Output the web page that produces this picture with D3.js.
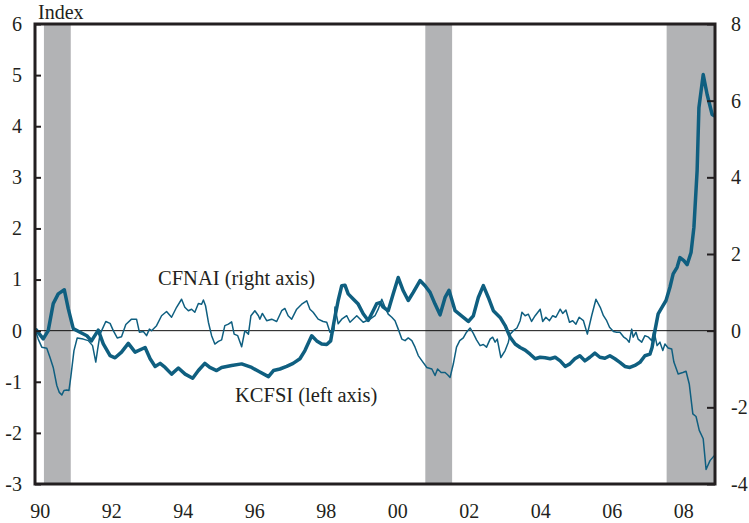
<!DOCTYPE html>
<html>
<head>
<meta charset="utf-8">
<script src="https://cdn.jsdelivr.net/npm/d3@7"></script>
<style>
  body { margin: 0; background: #fff; }
  text { font-family: "Liberation Serif", "Times New Roman", serif; fill: #231f20; }
</style>
</head>
<body>
<script>
// KCFSI, left axis (decimal years)
const kcfsiDates = [1990.25,1990.28,1990.48,1990.62,1990.76,1990.90,1991.07,1991.18,1991.32,1991.51,1991.70,1991.83,1992.02,1992.16,1992.35,1992.49,1992.67,1992.86,1993.05,1993.33,1993.47,1993.61,1993.75,1993.89,1994.07,1994.26,1994.45,1994.66,1994.82,1995.00,1995.14,1995.33,1995.47,1995.75,1996.03,1996.31,1996.54,1996.78,1996.92,1997.10,1997.29,1997.47,1997.66,1997.80,1997.99,1998.13,1998.27,1998.41,1998.52,1998.61,1998.73,1998.83,1998.92,1999.01,1999.15,1999.29,1999.43,1999.57,1999.71,1999.81,1999.90,1999.99,2000.13,2000.27,2000.41,2000.55,2000.69,2000.83,2001.02,2001.16,2001.30,2001.44,2001.58,2001.72,2001.83,2002.00,2002.18,2002.37,2002.51,2002.65,2002.79,2002.93,2003.07,2003.26,2003.40,2003.54,2003.68,2003.82,2003.96,2004.10,2004.24,2004.38,2004.52,2004.66,2004.80,2004.94,2005.08,2005.21,2005.35,2005.49,2005.63,2005.77,2005.91,2006.05,2006.19,2006.33,2006.47,2006.61,2006.75,2006.89,2007.03,2007.17,2007.31,2007.45,2007.51,2007.59,2007.68,2007.79,2007.90,2008.01,2008.10,2008.21,2008.29,2008.40,2008.49,2008.60,2008.68,2008.77,2008.82,2008.94,2009.05,2009.19,2009.26];
const kcfsiValues = [0.02,0.02,-0.16,0,0.53,0.72,0.80,0.43,0.04,-0.03,-0.10,-0.20,0.01,-0.26,-0.49,-0.53,-0.42,-0.25,-0.42,-0.33,-0.55,-0.70,-0.64,-0.72,-0.85,-0.73,-0.85,-0.93,-0.78,-0.64,-0.72,-0.78,-0.72,-0.68,-0.65,-0.72,-0.81,-0.90,-0.78,-0.75,-0.70,-0.64,-0.55,-0.39,-0.10,-0.20,-0.26,-0.27,-0.20,0.16,0.59,0.88,0.89,0.72,0.62,0.52,0.33,0.20,0.39,0.53,0.55,0.46,0.39,0.72,1.04,0.78,0.59,0.75,0.98,0.88,0.75,0.52,0.31,0.65,0.79,0.39,0.29,0.18,0.29,0.65,0.88,0.65,0.39,0.26,0.10,-0.13,-0.26,-0.33,-0.38,-0.46,-0.55,-0.52,-0.53,-0.55,-0.52,-0.59,-0.70,-0.65,-0.55,-0.49,-0.59,-0.52,-0.44,-0.52,-0.54,-0.49,-0.55,-0.62,-0.70,-0.72,-0.68,-0.62,-0.49,-0.46,-0.33,0,0.33,0.46,0.59,0.85,1.11,1.24,1.43,1.37,1.29,1.53,2.02,3.13,4.36,5.01,4.62,4.23,4.20];

// CFNAI, right axis
const cfnaiDates = [1990.25,1990.34,1990.44,1990.58,1990.67,1990.76,1990.86,1990.93,1991.00,1991.06,1991.14,1991.20,1991.25,1991.34,1991.43,1991.60,1991.74,1991.86,1991.95,1992.00,1992.07,1992.23,1992.35,1992.44,1992.55,1992.67,1992.79,1992.95,1993.09,1993.17,1993.28,1993.37,1993.45,1993.51,1993.65,1993.79,1993.93,1994.07,1994.21,1994.35,1994.44,1994.54,1994.63,1994.72,1994.82,1994.91,1994.96,1995.02,1995.10,1995.19,1995.28,1995.38,1995.47,1995.56,1995.66,1995.75,1995.82,1995.92,1996.03,1996.12,1996.22,1996.29,1996.40,1996.50,1996.54,1996.61,1996.73,1996.87,1997.01,1997.15,1997.24,1997.33,1997.43,1997.57,1997.71,1997.85,1997.94,1998.03,1998.17,1998.31,1998.41,1998.50,1998.61,1998.64,1998.73,1998.83,1998.97,1999.06,1999.25,1999.43,1999.62,1999.76,1999.85,1999.95,2000.04,2000.13,2000.23,2000.32,2000.41,2000.51,2000.60,2000.69,2000.79,2000.88,2000.97,2001.07,2001.21,2001.35,2001.44,2001.51,2001.61,2001.72,2001.79,2001.86,2001.95,2002.04,2002.13,2002.23,2002.32,2002.42,2002.51,2002.60,2002.70,2002.79,2002.88,2002.98,2003.05,2003.12,2003.18,2003.28,2003.40,2003.49,2003.54,2003.63,2003.73,2003.82,2003.87,2003.96,2004.05,2004.14,2004.24,2004.38,2004.45,2004.54,2004.64,2004.73,2004.82,2004.94,2005.01,2005.10,2005.20,2005.29,2005.38,2005.47,2005.59,2005.70,2005.82,2005.94,2006.06,2006.15,2006.24,2006.32,2006.43,2006.52,2006.61,2006.71,2006.80,2006.87,2006.94,2006.98,2007.06,2007.12,2007.22,2007.31,2007.41,2007.50,2007.56,2007.65,2007.73,2007.81,2007.87,2007.96,2008.06,2008.12,2008.24,2008.37,2008.46,2008.55,2008.65,2008.74,2008.83,2008.94,2009.02,2009.13,2009.25];
const cfnaiValues = [0.04,-0.22,-0.43,-0.46,-0.70,-0.96,-1.43,-1.61,-1.68,-1.56,-1.55,-1.56,-1.22,-0.52,-0.19,-0.22,-0.26,-0.39,-0.82,-0.50,-0.09,0.24,0.19,0,-0.19,-0.16,0.16,0.30,0.30,-0.04,-0.02,-0.13,0.04,0,0.13,0.39,0.50,0.35,0.61,0.82,0.61,0.52,0.56,0.48,0.71,0.69,0.80,0.65,0.22,-0.13,-0.35,-0.28,-0.24,0.13,0.17,0.23,-0.09,-0.13,-0.42,0,-0.09,0.39,0.52,0.39,0.30,0.45,0.26,0.30,0.24,0.52,0.58,0.39,0.30,0.56,0.69,0.78,0.56,0.48,0.30,0.24,0.22,-0.04,0,0.62,0.18,0.30,0.39,0.22,0.39,0.22,0.30,0.39,0.56,0.82,0.61,0.43,0.35,0.26,0.04,-0.22,-0.26,-0.19,-0.26,-0.43,-0.65,-0.78,-0.96,-1.00,-1.17,-1.00,-1.09,-1.09,-1.15,-1.22,-0.87,-0.43,-0.26,-0.19,-0.04,0.07,-0.07,-0.24,-0.39,-0.36,-0.43,-0.22,-0.17,-0.30,-0.22,-0.70,-0.52,-0.30,-0.09,0,0.07,0.26,0.48,0.39,0.43,0.24,0.39,0.56,0.24,0.35,0.26,0.39,0.35,0.56,0.45,0.54,0.22,0.26,0.17,0.35,0.26,-0.09,0.39,0.82,0.61,0.39,0.26,0.09,-0.02,-0.04,-0.04,-0.16,-0.22,-0.30,0.04,-0.17,-0.04,-0.22,-0.30,-0.13,-0.17,-0.26,0,-0.39,-0.30,-0.52,-0.35,-0.45,-0.48,-0.82,-1.13,-1.09,-1.06,-1.39,-2.17,-2.24,-2.60,-2.82,-3.62,-3.39,-3.26];

// recessions
const recStart = [1990.5, 2001.167, 2007.917];
const recEnd = [1991.25, 2001.917, 2009.27];

const leftTicks = [-3, -2, -1, 0, 1, 2, 3, 4, 5, 6];
const rightTicks = [-4, -2, 0, 2, 4, 6, 8];
const yearLabels = [1990, 1992, 1994, 1996, 1998, 2000, 2002, 2004, 2006, 2008];

const w = 749;
const h = 523;
const pLeft = 35, pRight = 715, pTop = 24, pBottom = 484;
const blue = "#0f5f80";

const svg = d3.select("body")
              .append("svg")
              .attr("width", w)
              .attr("height", h);

const x = d3.scaleLinear().domain([1990.25, 2009.27]).range([pLeft, pRight]);
const yL = d3.scaleLinear().domain([-3, 6]).range([pBottom, pTop]);
const yR = d3.scaleLinear().domain([-4, 8]).range([pBottom, pTop]);

// recession shading
svg.selectAll("rect.rec")
   .data(recStart)
   .enter()
   .append("rect")
   .attr("class", "rec")
   .attr("x", d => x(d))
   .attr("y", pTop)
   .attr("width", (d, i) => x(Math.min(recEnd[i], 2009.27)) - x(d))
   .attr("height", pBottom - pTop)
   .attr("fill", "#b2b3b5");

// zero line
svg.append("line")
   .attr("x1", pLeft).attr("x2", pRight)
   .attr("y1", yL(0)).attr("y2", yL(0))
   .attr("stroke", "#111").attr("stroke-width", 1);

// CFNAI (thin)
const cfnai = cfnaiDates.map((d, i) => [d, cfnaiValues[i]]);
svg.append("path")
   .datum(cfnai)
   .attr("fill", "none")
   .attr("stroke", blue)
   .attr("stroke-width", 1.5)
   .attr("stroke-linejoin", "round")
   .attr("d", d3.line().x(d => x(d[0])).y(d => yR(d[1])));

// KCFSI (thick)
const kcfsi = kcfsiDates.map((d, i) => [d, kcfsiValues[i]]);
svg.append("path")
   .datum(kcfsi)
   .attr("fill", "none")
   .attr("stroke", blue)
   .attr("stroke-width", 3.5)
   .attr("stroke-linejoin", "round")
   .attr("d", d3.line().x(d => x(d[0])).y(d => yL(d[1])));

// axes (plain hyphen for negatives, like the original)
const fmt = d => String(d);
const axL = svg.append("g")
   .attr("transform", `translate(${pLeft},0)`)
   .call(d3.axisLeft(yL).tickValues(leftTicks).tickFormat(fmt).tickSizeInner(-6).tickSizeOuter(0).tickPadding(13));
const axR = svg.append("g")
   .attr("transform", `translate(${pRight},0)`)
   .call(d3.axisRight(yR).tickValues(rightTicks).tickFormat(fmt).tickSizeInner(-8).tickSizeOuter(0).tickPadding(16));
const axB = svg.append("g")
   .attr("transform", `translate(0,${pBottom})`)
   .call(d3.axisBottom(x).tickValues(yearLabels.map(d => d + 0.38)).tickSize(0).tickPadding(20)
           .tickFormat(d => String(Math.floor(d)).slice(2)));

[axL, axR, axB].forEach(g => {
  g.select(".domain").remove();
  g.selectAll("line").attr("stroke", "#231f20").attr("stroke-width", 2);
  g.selectAll("text").attr("font-size", 20).attr("font-family", "Liberation Serif");
});

// frame
svg.append("rect")
   .attr("x", pLeft).attr("y", pTop)
   .attr("width", pRight - pLeft).attr("height", pBottom - pTop)
   .attr("fill", "none")
   .attr("stroke", "#231f20")
   .attr("stroke-width", 3);

// labels
svg.append("text").attr("x", 38).attr("y", 19).attr("font-size", 20).text("Index");
svg.append("text").attr("x", 158).attr("y", 285).attr("font-size", 20.5).text("CFNAI (right axis)");
svg.append("text").attr("x", 235).attr("y", 402).attr("font-size", 20.5).text("KCFSI (left axis)");
</script>
</body>
</html>
